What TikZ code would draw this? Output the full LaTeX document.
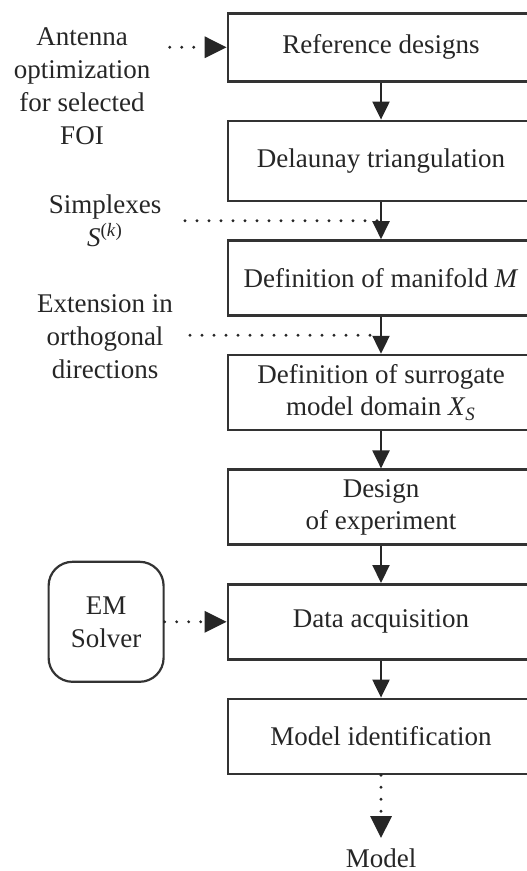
\documentclass[tikz,border=0pt]{standalone}
\usepackage{fontspec}
\setmainfont{Liberation Serif}
\usetikzlibrary{arrows.meta}
\usetikzlibrary{positioning}
\usetikzlibrary{calc}
\tikzset{
  stage_box/.style = {rectangle, draw=black!80, line width=1.3pt, align=center,
    minimum width=153pt, minimum height=37.5pt, inner sep=2pt, text=black!85,
    font=\fontsize{13.5}{16}\selectfont},% etape du flot
  side_txt/.style = {align=center, inner sep=0pt, text=black!85,
    font=\fontsize{13.5}{16.5}\selectfont},% texte en marge
  em_box/.style = {rectangle, rounded corners=12pt, draw=black!80, line width=1.1pt,
    align=center, minimum width=57.5pt, minimum height=60pt, text=black!85,
    font=\fontsize{13.5}{16.5}\selectfont},% solveur
  flow_arr/.style = {-{Triangle[length=9pt,width=8.5pt]}, line width=1.1pt, black!85},
  dot_line/.style = {line width=1.6pt, line cap=round, dash pattern=on 0pt off 6pt,
    black!85},
  dot_arr/.style = {dot_line, -{Triangle[length=11pt,width=10.5pt]}}
}

\begin{document}
\begin{tikzpicture}[x=0.5pt,y=-0.5pt,node distance=18.5pt]
\useasboundingbox (0,0) rectangle (526,871);

\node [stage_box, minimum height=34pt] (ref) at (381,47.3) {Reference designs};
\node [stage_box, minimum height=40pt, below=of ref] (delau) {Delaunay triangulation};
\node [stage_box, below=of delau] (mani) {Definition of manifold \textit{M}};
\node [stage_box, below=of mani] (dom) {Definition of surrogate\\model domain \textit{X}\textsubscript{\textit{S}}};
\node [stage_box, below=of dom] (doe) {Design\\of experiment};
\node [stage_box, below=of doe] (acq) {Data acquisition};
\node [stage_box, below=of acq] (ident) {Model identification};
\node [side_txt] (model) at (381,858) {Model};

\node [side_txt] (antenna) at (82,86) {Antenna\\optimization\\for selected\\FOI};
\node [side_txt] (simplex) at (105,221) {Simplexes\\\textit{S}\textsuperscript{(\textit{k})}};
\node [side_txt] (ext) at (105,337) {Extension in\\orthogonal\\directions};
\node [em_box, left=31pt of acq] (em) {EM\\Solver};

\draw [flow_arr] (ref) -- (delau);
\draw [flow_arr] (delau) -- (mani);
\draw [flow_arr] (mani) -- (dom);
\draw [flow_arr] (dom) -- (doe);
\draw [flow_arr] (doe) -- (acq);
\draw [flow_arr] (acq) -- (ident);

\coordinate (a_in) at ([xshift=-28.5pt]ref.west);
\coordinate (j23) at ($(delau.south)!0.5!(mani.north)$);
\coordinate (j34) at ($(mani.south)!0.5!(dom.north)$);
\coordinate (s_in) at ([xshift=-98pt]j23);
\coordinate (e_in) at ([xshift=-95.5pt]j34);

\draw [dot_arr] (a_in) -- (ref.west);
\draw [dot_line] (s_in) -- (j23);
\draw [dot_line] (e_in) -- (j34);
\draw [dot_arr] (em.east) -- (acq.west);
\draw [dot_arr, shorten >=5pt] (ident.south) -- (model.north);
\end{tikzpicture}
\end{document}
